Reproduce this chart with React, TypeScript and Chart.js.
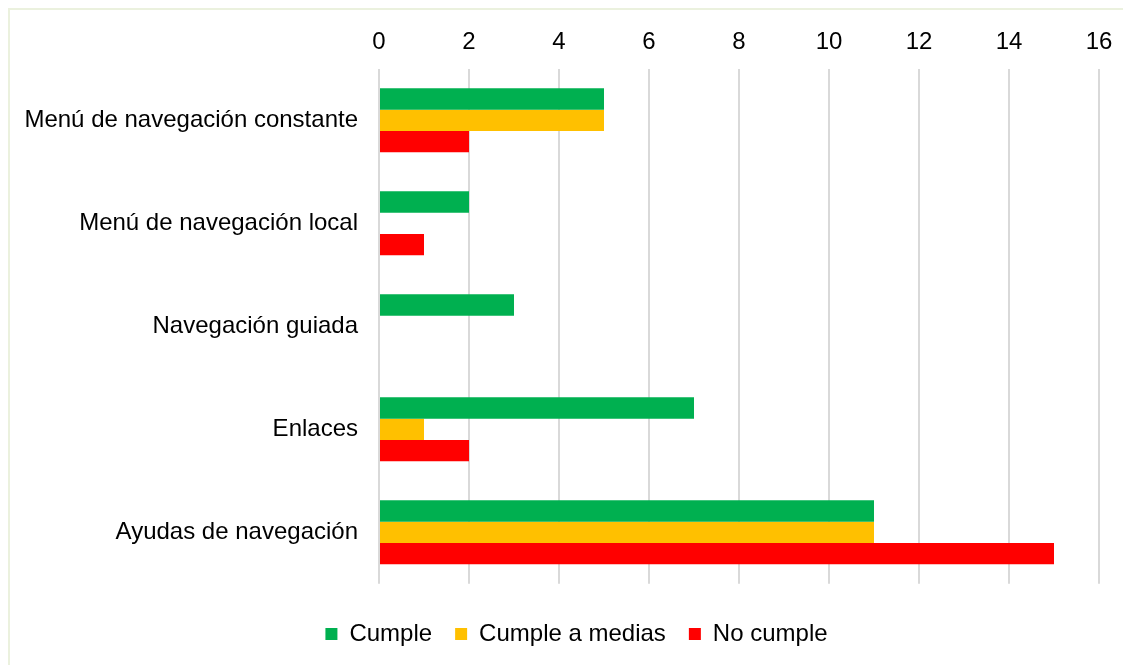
import React, { useEffect, useRef } from "react";
import { Chart, registerables } from "chart.js";

Chart.register(...registerables);

const categories = [
  "Menú de navegación constante",
  "Menú de navegación local",
  "Navegación guiada",
  "Enlaces",
  "Ayudas de navegación",
];
const cumple = [5, 2, 3, 7, 11];
const cumpleAMedias = [5, 0, 0, 1, 11];
const noCumple = [2, 1, 0, 2, 15];
const seriesNames = ["Cumple", "Cumple a medias", "No cumple"];
const seriesColors = ["#00B050", "#FFC000", "#FF0000"];

export default function App() {
  const ref = useRef<HTMLCanvasElement | null>(null);
  useEffect(() => {
    if (!ref.current) return;
    const font = { family: "'Liberation Sans', Arial, sans-serif", size: 24 };
    const chart = new Chart(ref.current, {
      type: "bar",
      data: {
        labels: categories,
        datasets: [cumple, cumpleAMedias, noCumple].map((d, i) => ({
          label: seriesNames[i],
          data: d,
          backgroundColor: seriesColors[i],
          borderWidth: 0,
          barPercentage: 1,
          categoryPercentage: 0.62,
        })),
      },
      options: {
        indexAxis: "y",
        animation: false,
        responsive: true,
        maintainAspectRatio: false,
        layout: { padding: { left: 12, right: 0, top: 6, bottom: 9 } },
        scales: {
          x: {
            position: "top",
            min: 0,
            max: 16,
            ticks: { stepSize: 2, color: "#000", font, padding: 12 },
            grid: { color: "#D9D9D9", lineWidth: 2, drawTicks: false },
            border: { display: false },
          },
          y: {
            ticks: { color: "#000", font, padding: 21 },
            grid: { display: false, drawTicks: false },
            border: { display: false },
            afterFit: (scale: any) => {
              scale.width = 357;
            },
          },
          spacer: {
            type: "linear",
            position: "right",
            display: true,
            ticks: { display: false },
            grid: { display: false, drawTicks: false },
            border: { display: false },
            afterFit: (scale: any) => {
              scale.width = 32;
            },
          },
        },
        plugins: {
          legend: {
            position: "bottom",
            title: {
              display: true,
              text: "",
              font: { size: 1 },
              padding: { top: 14, bottom: 0 },
            },
            labels: {
              color: "#000",
              font,
              boxWidth: 12,
              boxHeight: 12,
              padding: 23,
            },
          },
          tooltip: { enabled: false },
        },
      },
    });
    return () => chart.destroy();
  }, []);
  return (
    <div
      style={{
        position: "relative",
        width: 1123,
        height: 657,
        borderTop: "2px solid #EBF1DE",
        borderLeft: "2px solid #EBF1DE",
        boxSizing: "border-box",
      }}
    >
      <canvas ref={ref} />
    </div>
  );
}
